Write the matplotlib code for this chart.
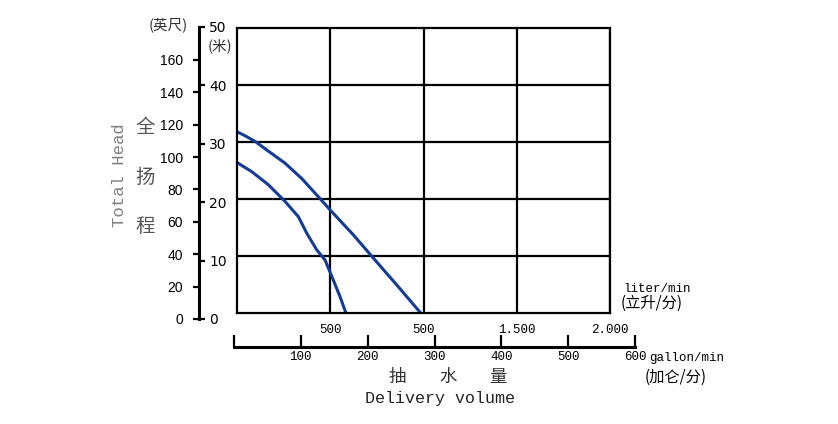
import numpy as np
import matplotlib.pyplot as plt

# pump curves: flow in liter/min, head in metres
flow_a = [0, 43, 97, 168, 257, 347, 436, 499, 624, 740, 865, 985]
head_a = [31.8, 31.1, 30.1, 28.4, 26.3, 23.6, 20.4, 18.1, 13.7, 9.3, 4.6, 0]
flow_b = [0, 79, 168, 257, 329, 374, 427, 472, 516, 552, 584]
head_b = [26.4, 24.8, 22.5, 19.6, 16.9, 14.0, 11.1, 9.3, 5.8, 2.9, 0]

liter_ticks = [500, 1000, 1500, 2000]
liter_labels = ['500', '500', '1.500', '2.000']
gallon_ticks = [0, 100, 200, 300, 400, 500, 600]
gallon_labels = ['', '100', '200', '300', '400', '500', '600']
meter_ticks = [0, 10, 20, 30, 40, 50]
feet_ticks = [0, 20, 40, 60, 80, 100, 120, 140, 160]

W, H = 838, 424
fig = plt.figure(figsize=(W / 100, H / 100), dpi=100)

def box(x0, y0, x1, y1):
    # pixel box (top-left origin) -> figure fraction rect
    return [x0 / W, 1 - y1 / H, (x1 - x0) / W, (y1 - y0) / H]

mono = 'Liberation Mono'
cjk = ['Noto Sans CJK SC', 'DejaVu Sans']
blue = '#143c96'

# main grid
ax = fig.add_axes(box(237, 28, 610, 313))
ax.plot(flow_a, head_a, color=blue, lw=2.2, solid_joinstyle='round')
ax.plot(flow_b, head_b, color=blue, lw=2.2, solid_joinstyle='round')
ax.set_xlim(0, 2000)
ax.set_ylim(0, 50)
ax.set_yticks(meter_ticks[1:-1])
ax.set_yticklabels([])
ax.set_xticks(liter_ticks)
ax.set_xticklabels(liter_labels, fontfamily=mono, fontsize=9)
ax.tick_params(length=0)
ax.tick_params(axis='x', pad=8)
ax.grid(True, color='black', lw=1.6)
for s in ax.spines.values():
    s.set_linewidth(1.6)

# left head scale (feet on the left, metres on the right)
axl = fig.add_axes(box(199, 27, 209, 319))
axl.set_ylim(0, 50 / 0.2772)
axl.set_yticks(feet_ticks)
axl.set_yticklabels([str(v) for v in feet_ticks], fontfamily='Liberation Sans', fontsize=10)
axl.set_xticks([])
for k in ['top', 'right', 'bottom']:
    axl.spines[k].set_visible(False)
axl.spines['left'].set_linewidth(2.2)
axl.tick_params(axis='y', length=4.5, width=1.6, pad=7)
axl.patch.set_visible(False)

axm = axl.twinx()
axm.set_ylim(0, 50)
axm.set_yticks(meter_ticks)
axm.set_yticklabels([str(v) for v in meter_ticks], fontfamily='Liberation Sans', fontsize=10)
for k in ['top', 'left', 'bottom']:
    axm.spines[k].set_visible(False)
axm.spines['right'].set_position(('axes', 0))
axm.spines['right'].set_visible(False)
axm.tick_params(axis='y', length=4.5, width=1.6, pad=3)

# gallon scale
axg = fig.add_axes(box(234, 337, 635, 347))
axg.set_xlim(0, 600)
axg.set_xticks(gallon_ticks)
axg.set_xticklabels(gallon_labels, fontfamily=mono, fontsize=9)
axg.set_yticks([])
for k in ['top', 'left', 'right']:
    axg.spines[k].set_visible(False)
axg.spines['bottom'].set_linewidth(2.2)
axg.tick_params(axis='x', direction='in', length=8.5, width=1.6, pad=3)
axg.patch.set_visible(False)

# texts
fig.text(168 / W, 1 - 25 / H, '(英尺)', family=cjk, fontsize=10.5, color='#333333', ha='center', va='center')
fig.text(220 / W, 1 - 46 / H, '(米)', family=cjk, fontsize=10.5, color='#333333', ha='center', va='center')
fig.text(119 / W, 1 - 175 / H, 'Total Head', family=mono, fontsize=12.5, color='#808080',
         rotation=90, ha='center', va='center')
for ch, y in zip('全扬程', [127, 177, 227]):
    fig.text(145 / W, 1 - y / H, ch, family=cjk, fontsize=14, color='#555555', ha='center', va='center')
for ch, x in zip('抽水量', [397, 448, 498]):
    fig.text(x / W, 1 - 377 / H, ch, family=cjk, fontsize=12.5, color='#333333', ha='center', va='center')
fig.text(440 / W, 1 - 398 / H, 'Delivery volume', family=mono, fontsize=12, color='#222222',
         ha='center', va='center')
fig.text(623 / W, 1 - 289 / H, 'liter/min', family=mono, fontsize=9, ha='left', va='center')
fig.text(621 / W, 1 - 303 / H, '(立升/分)', family=cjk, fontsize=11, ha='left', va='center')
fig.text(649 / W, 1 - 358 / H, 'gallon/min', family=mono, fontsize=9, ha='left', va='center')
fig.text(645 / W, 1 - 377 / H, '(加仑/分)', family=cjk, fontsize=11, ha='left', va='center')

fig.savefig('out.png', dpi=100)
